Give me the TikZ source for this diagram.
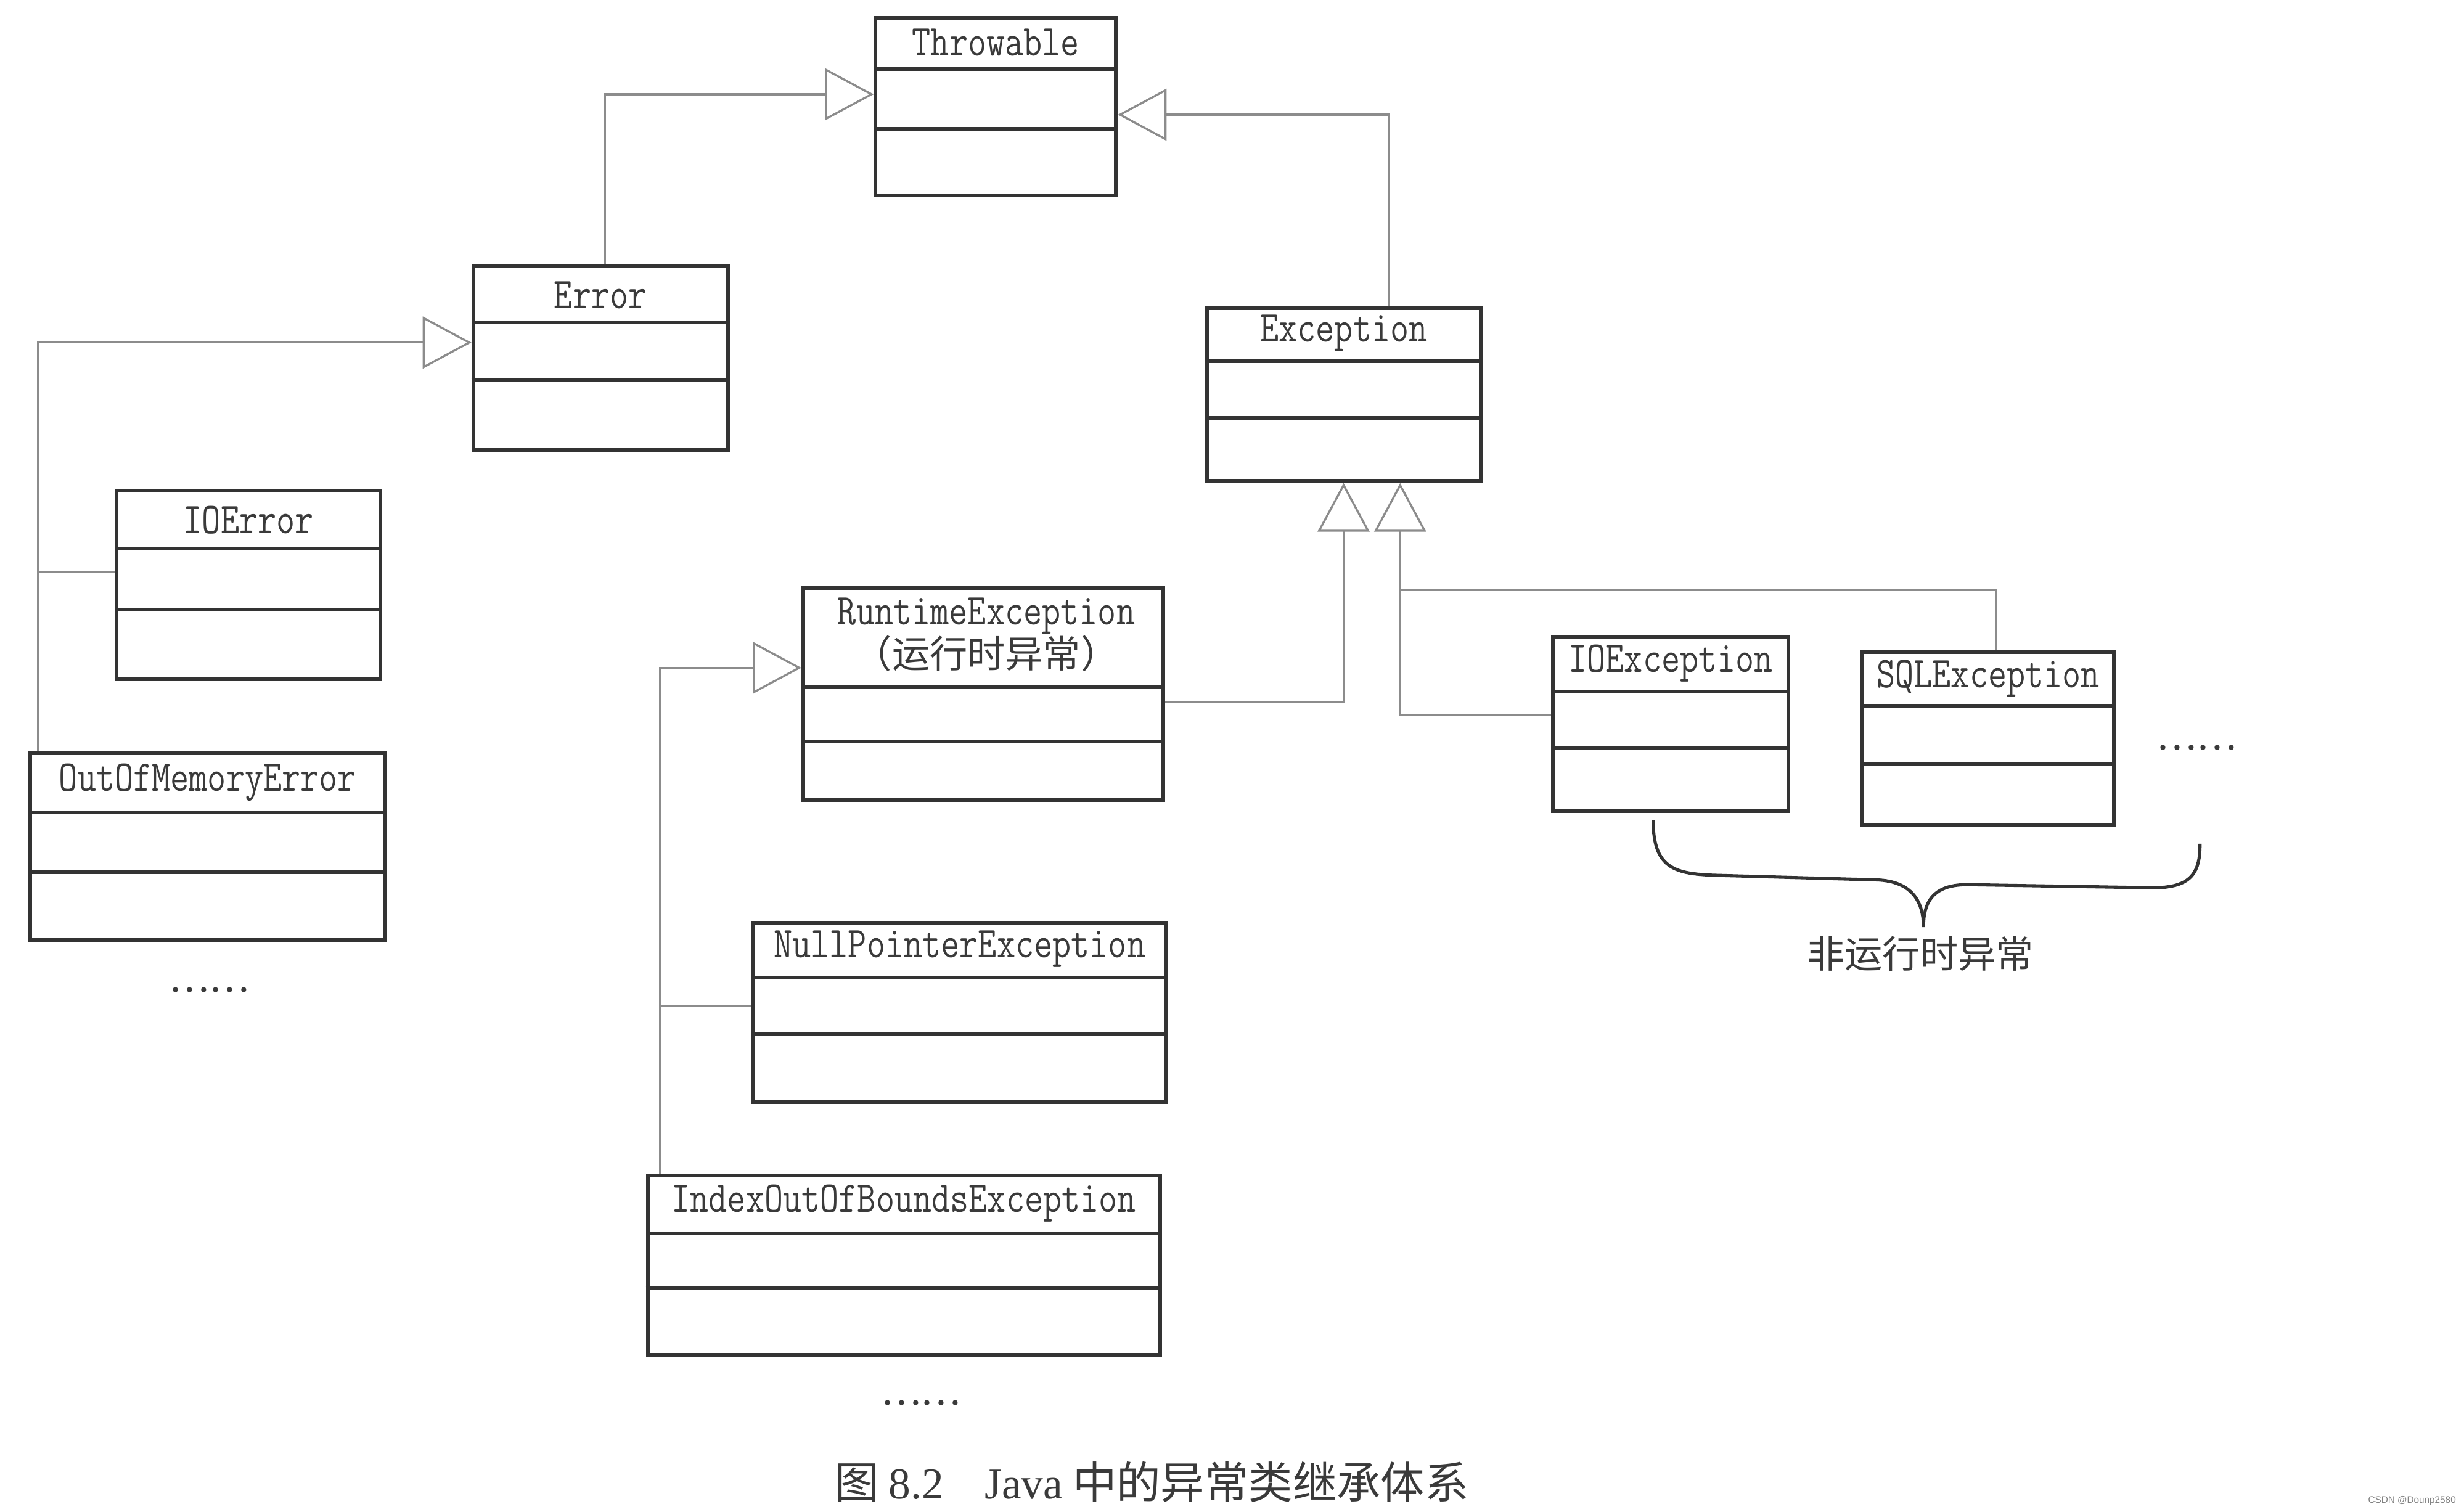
\documentclass[tikz,border=0pt]{standalone}
\usepackage{fontspec}
\newfontfamily\boxfont[FakeStretch=0.82]{Latin Modern Mono}
\newfontfamily\cjk{Noto Sans CJK SC}
\newfontfamily\capserif{Liberation Serif}
\newfontfamily\wmfont{Liberation Sans}
\usetikzlibrary{arrows.meta,calc}
\definecolor{boxline}{HTML}{333333}
\definecolor{connline}{HTML}{8C8C8C}
\definecolor{txt}{HTML}{3A3A3A}
\newcommand\mkbox[7]{%
  \node[umlbox, minimum width=#4pt, minimum height=#5pt] (#1) at (#2,#3) {};
  \draw[divline] ($(#1.north west)+(0,#6)$) -- ($(#1.north east)+(0,#6)$);
  \draw[divline] ($(#1.north west)+(0,#7)$) -- ($(#1.north east)+(0,#7)$);
}
\begin{document}
\begin{tikzpicture}[x=1pt,y=-1pt,
  umlbox/.style={draw=boxline, line width=2.4pt, anchor=north west, inner sep=0pt},
  divline/.style={draw=boxline, line width=2.4pt},
  titletext/.style={font=\boxfont\fontsize{28}{30}\selectfont, text=txt, inner sep=0pt},
  cjktext/.style={font=\cjk\fontsize{24}{26}\selectfont, text=txt, inner sep=0pt},
  conn/.style={draw=connline, line width=1.3pt},
  inh/.style={conn, -{Triangle[open, length=31pt, width=33pt, line width=1.3pt]}},
  bracestyle/.style={draw=boxline, line width=2pt},
]
\useasboundingbox[fill=white] (0,0) rectangle (1568,962);

% boxes: name, x, y, w, h, divider1, divider2
\mkbox{thr}{556}{10}{153}{113}{34}{72}
\mkbox{err}{300}{168}{162}{117}{37}{74}
\mkbox{exc}{767}{195}{174}{110}{35}{71}
\mkbox{ioerr}{73}{311}{168}{120}{38}{77}
\mkbox{oom}{18}{478}{226}{119}{39}{77}
\mkbox{rt}{510}{373}{229}{135}{64}{99}
\mkbox{np}{478}{586}{263}{114}{36}{72}
\mkbox{ioob}{411}{747}{326}{114}{38}{73}
\mkbox{ioex}{987}{404}{150}{111}{36}{72}
\mkbox{sql}{1184}{414}{160}{110}{35}{72}

% titles
\node[titletext] (thrt) at ($(thr.north)+(0,17)$) {Throwable};
\node[titletext] (errt) at ($(err.north)+(0,20)$) {Error};
\node[titletext] (exct) at ($(exc.north)+(0,17)$) {Exception};
\node[titletext] (ioerrt) at ($(ioerr.north)+(0,20)$) {IOError};
\node[titletext] (oomt) at ($(oom.north)+(0,20)$) {OutOfMemoryError};
\node[titletext] (rtt) at ($(rt.north)+(2,19)$) {RuntimeException};
\node[cjktext] (rtc) at ($(rt.north)+(2,43)$) {（运行时异常）};
\node[titletext] (npt) at ($(np.north)+(0,18)$) {NullPointerException};
\node[titletext] (ioobt) at ($(ioob.north)+(0,19)$) {IndexOutOfBoundsException};
\node[titletext] (ioext) at ($(ioex.north)+(0,18)$) {IOException};
\node[titletext] (sqlt) at ($(sql.north)+(0,18)$) {SQLException};

% Error -> Throwable
\draw[inh] ($(err.north west)+(85,0)$) |- ($(thr.north west)+(0,50)$);
% Exception -> Throwable
\draw[inh] ($(exc.north west)+(117,0)$) |- ($(thr.north east)+(0,63)$);
% OutOfMemoryError / IOError -> Error
\coordinate (vl) at ($(oom.north west)+(6,0)$);
\draw[inh] (vl) |- ($(err.north west)+(0,50)$);
\coordinate (b1) at ($(ioerr.north west)+(0,53)$);
\draw[conn] (b1) -- (vl |- b1);
% RuntimeException -> Exception
\draw[inh] ($(rt.north east)+(0,74)$) -| ($(exc.south west)+(88,0)$);
% IOException / SQLException -> Exception
\draw[inh] ($(ioex.north west)+(0,51)$) -| ($(exc.south west)+(124,0)$);
\coordinate (j2) at ($(exc.south west)+(124,68)$);
\draw[conn] ($(sql.north west)+(86,0)$) |- (j2);
% NullPointer / IndexOutOfBounds -> RuntimeException
\coordinate (vl2) at ($(ioob.north west)+(9,0)$);
\draw[inh] (vl2) |- ($(rt.north west)+(0,52)$);
\coordinate (b2) at ($(np.north west)+(0,54)$);
\draw[conn] (b2) -- (vl2 |- b2);

% brace
\draw[bracestyle] (1052,522) .. controls (1052,552) and (1065,556) .. (1090,557)
  -- (1195,560) .. controls (1215,561) and (1224,572) .. (1224,590)
  .. controls (1224,572) and (1232,563) .. (1252,563)
  -- (1370,565) .. controls (1395,565) and (1400,555) .. (1400,537);
\node[cjktext] (nonrt) at (1222,607) {非运行时异常};

% dots
\node[cjktext] (dots1) at (133,630) {……};
\node[cjktext] (dots2) at (586,893) {……};
\node[cjktext] (dots3) at (1398,476) {……};

% caption
\node[inner sep=0pt, text=txt, font=\cjk\fontsize{28}{30}\selectfont] (cap) at (733,943)
  {图\ {\capserif 8.2}\hspace{26pt}{\capserif Java} 中的异常类继承体系};

% watermark
\node[font=\wmfont\fontsize{6}{7}\selectfont, text=gray, anchor=east, inner sep=0pt] (wm) at (1563,955) {CSDN @Dounp2580};
\end{tikzpicture}
\end{document}
